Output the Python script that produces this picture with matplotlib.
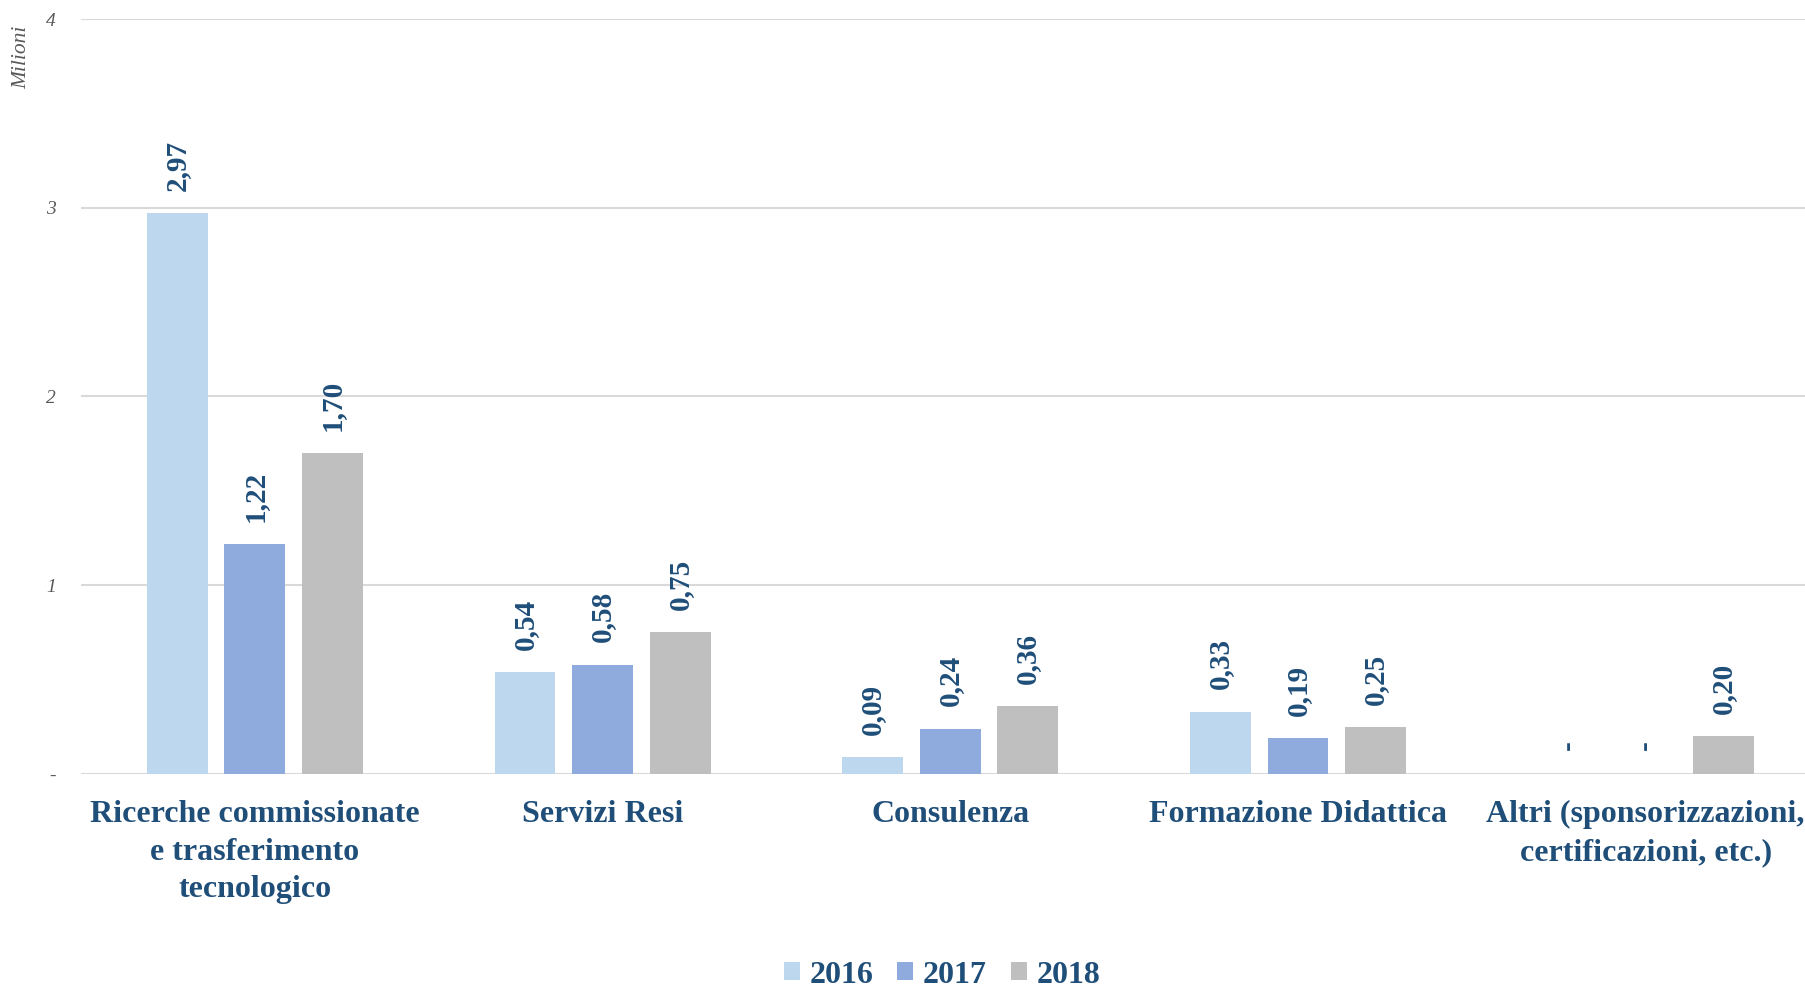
import matplotlib
matplotlib.use("Agg")
import matplotlib.pyplot as plt
from matplotlib.patches import Patch
import numpy as np

categories = ["Ricerche commissionate\ne trasferimento\ntecnologico",
              "Servizi Resi", "Consulenza", "Formazione Didattica",
              "Altri (sponsorizzazioni,\ncertificazioni, etc.)"]
years = ["2016", "2017", "2018"]
v2016 = [2.97, 0.54, 0.09, 0.33, 0.0]
v2017 = [1.22, 0.58, 0.24, 0.19, 0.0]
v2018 = [1.70, 0.75, 0.36, 0.25, 0.20]
colors = ["#BDD7EE", "#8FAADC", "#BFBFBF"]
yticks = [0, 1, 2, 3, 4]
ytick_labels = ["-", "1", "2", "3", "4"]

label_color = "#1F4E79"
plt.rcParams['font.family'] = ['Liberation Serif', 'DejaVu Serif']

fig = plt.figure(figsize=(18.06, 9.88), dpi=100)
ax = fig.add_axes([81/1806, (988-774)/988, 1738.5/1806, (774-19)/988])

x = np.arange(len(categories))
width = 0.175
offsets = [-0.223, 0.0, 0.223]
for vals, col, off in zip([v2016, v2017, v2018], colors, offsets):
    bars = ax.bar(x + off, vals, width=width, color=col, zorder=3)
    for b, v in zip(bars, vals):
        txt = "-" if v == 0 else f"{v:.2f}".replace(".", ",")
        ax.annotate(txt, (b.get_x() + b.get_width()/2, v),
                    xytext=(0, 16 if v > 0 else 17), textcoords="offset points",
                    rotation=90, ha="center", va="bottom",
                    fontsize=21, fontweight="bold", color=label_color)

ax.set_xlim(-0.5, 4.5)
ax.set_ylim(0, 4)
ax.set_yticks(yticks)
ax.set_yticklabels(ytick_labels, fontsize=14, style="italic", color="#595959")
ax.set_xticks(x)
ax.set_xticklabels(categories, fontsize=23, fontweight="bold", color=label_color,
                   linespacing=1.38, multialignment="center")
ax.tick_params(axis="x", length=0, pad=19)
ax.tick_params(axis="y", length=0, pad=18)
ax.grid(axis="y", color="#D9D9D9", lw=1.5, zorder=0)
for s in ax.spines.values():
    s.set_visible(False)

fig.text(22/1806, 1 - 26/988, "Milioni", rotation=90, ha="center", va="top",
         fontsize=15.5, style="italic", color="#595959")

handles = [Patch(facecolor=c, edgecolor="none") for c in colors]
leg = fig.legend(handles, years, loc="center", bbox_to_anchor=(942/1806, 1 - 975/988),
                 ncol=3, frameon=False, handlelength=0.5, handleheight=0.5,
                 handletextpad=0.3, columnspacing=0.75,
                 prop={"size": 23, "weight": "bold"})
for t in leg.get_texts():
    t.set_color(label_color)

fig.savefig("out.png", dpi=100)
